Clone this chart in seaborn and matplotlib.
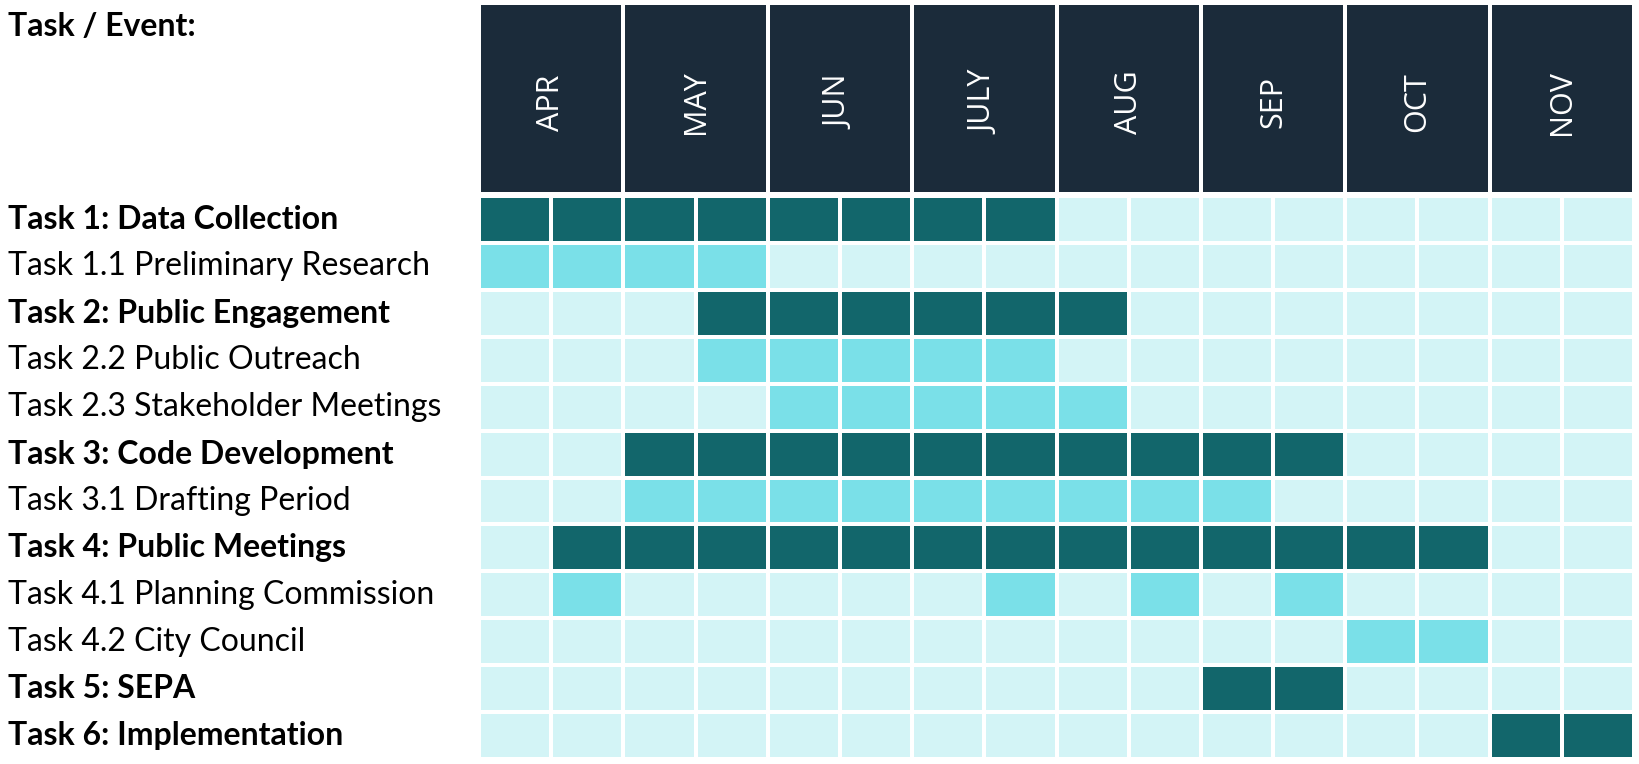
import numpy as np
import pandas as pd
import matplotlib
matplotlib.use("Agg")
import matplotlib.pyplot as plt
from matplotlib.colors import ListedColormap
from matplotlib.transforms import blended_transform_factory
import seaborn as sns

# --------------------------------------------------------------
# Data
# --------------------------------------------------------------
months = ["APR", "MAY", "JUN", "JULY", "AUG", "SEP", "OCT", "NOV"]
halves = [f"{m} {h}" for m in months for h in (1, 2)]

tasks = [
    "Task 1: Data Collection",
    "Task 1.1 Preliminary Research",
    "Task 2: Public Engagement",
    "Task 2.2 Public Outreach",
    "Task 2.3 Stakeholder Meetings",
    "Task 3: Code Development",
    "Task 3.1 Drafting Period",
    "Task 4: Public Meetings",
    "Task 4.1 Planning Commission",
    "Task 4.2 City Council",
    "Task 5: SEPA",
    "Task 6: Implementation",
]

# active half-month columns per task (0 = first half of APR ... 15 = second half of NOV)
active = [
    [0, 1, 2, 3, 4, 5, 6, 7],
    [0, 1, 2, 3],
    [3, 4, 5, 6, 7, 8],
    [3, 4, 5, 6, 7],
    [4, 5, 6, 7, 8],
    [2, 3, 4, 5, 6, 7, 8, 9, 10, 11],
    [2, 3, 4, 5, 6, 7, 8, 9, 10],
    [1, 2, 3, 4, 5, 6, 7, 8, 9, 10, 11, 12, 13],
    [1, 7, 9, 11],
    [12, 13],
    [10, 11],
    [14, 15],
]

# main tasks are bold + dark, sub tasks light
is_main = [":" in t for t in tasks]

grid = np.zeros((len(tasks), len(halves)), dtype=int)
for i, cols in enumerate(active):
    grid[i, cols] = 2 if is_main[i] else 1
df = pd.DataFrame(grid, index=tasks, columns=halves)

# --------------------------------------------------------------
# Figure
# --------------------------------------------------------------
W, H = 1640, 764
fig = plt.figure(figsize=(W / 100, H / 100), dpi=100)
fig.patch.set_facecolor("white")

left, right = 479 / W, 1634 / W
ax_head = fig.add_axes([left, 1 - 194 / H, right - left, 191 / H])
ax = fig.add_axes([left, 1 - 759 / H, right - left, 563 / H])

# header
sns.heatmap(np.zeros((1, len(months))), ax=ax_head, cmap=ListedColormap(["#1B2B3A"]),
            cbar=False, linewidths=1.6, linecolor="white",
            xticklabels=False, yticklabels=False)
for j, m in enumerate(months):
    ax_head.text(j + 0.5, 0.52, m, rotation=90, ha="center", va="center",
                 color="white", fontsize=22, family="Open Sans")

# task grid
cmap = ListedColormap(["#D3F4F6", "#7AE0E8", "#12666B"])
sns.heatmap(df, ax=ax, cmap=cmap, vmin=0, vmax=2, cbar=False,
            linewidths=1.6, linecolor="white",
            xticklabels=False, yticklabels=False)
ax.set_xlabel("")
ax.set_ylabel("")

# row labels
trans = blended_transform_factory(fig.transFigure, ax.transData)
for i, t in enumerate(tasks):
    ax.text(8 / W, i + 0.5, t, transform=trans, ha="left", va="center",
            fontsize=23, family="Lato",
            fontweight="bold" if is_main[i] else "normal", color="black")

fig.text(8 / W, 1 - 26 / H, "Task / Event:", ha="left", va="center",
         fontsize=23, family="Lato", fontweight="bold")

fig.savefig("out.png", dpi=100)
plt.close(fig)
